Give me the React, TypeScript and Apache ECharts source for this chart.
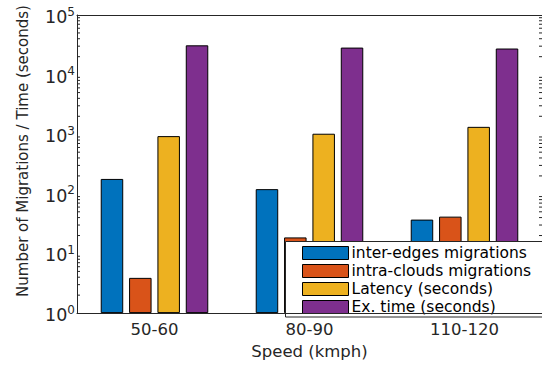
import React, { useEffect, useRef } from "react";
import * as echarts from "echarts";

const categories = ["50-60", "80-90", "110-120"];
const interEdges = [178, 120, 37];
const intraClouds = [3.9, 18.6, 41.5];
const latency = [930, 1020, 1330];
const exTime = [31000, 28400, 27400];
const seriesNames = [
  "inter-edges migrations",
  "intra-clouds migrations",
  "Latency (seconds)",
  "Ex. time (seconds)",
];
const colors = ["#0072BD", "#D95319", "#EDB120", "#7E2F8E"];
const yMin = 1;
const yMax = 100000;
const minorMultipliers = [2, 3, 4, 5, 6, 7, 8, 9];
const decades = [1, 10, 100, 1000, 10000];
const yAxisTitle = "Number of Migrations / Time (seconds)";

const AX = "#262626";
const FONT = "DejaVu Sans";

export default function App() {
  const ref = useRef<HTMLDivElement>(null);
  useEffect(() => {
    if (!ref.current) return;
    const chart = echarts.init(ref.current, null, { renderer: "svg" });
    const minorData: number[][] = [];
    decades.forEach((d) => minorMultipliers.forEach((m) => minorData.push([0, d * m])));
    const seriesData = [interEdges, intraClouds, latency, exTime];
    const barSeries = seriesData.map((data, i) => ({
      name: seriesNames[i],
      type: "bar",
      data,
      barWidth: 22.5,
      barGap: "26%",
      itemStyle: { color: colors[i], borderColor: "#000", borderWidth: 1 },
      emphasis: { disabled: true },
    }));
    chart.setOption({
      animation: false,
      grid: { left: 77, top: 15, width: 467, height: 302 },
      graphic: [
        {
          type: "text",
          x: 23,
          y: 151,
          rotation: Math.PI / 2,
          style: {
            text: yAxisTitle,
            fontFamily: FONT,
            fontSize: 15,
            fill: AX,
            align: "center",
            verticalAlign: "middle",
          },
        },
        {
          type: "rect",
          z: 8,
          shape: { x: 285.5, y: 241.5, width: 280, height: 75.5 },
          style: { fill: "#fff", stroke: AX, lineWidth: 1 },
        },
      ],
      legend: {
        data: seriesNames,
        orient: "vertical",
        left: 285,
        top: 241,
        padding: [4, 10, 2, 17],
        itemWidth: 46,
        itemHeight: 13,
        itemGap: 2,
        icon: "rect",
        itemStyle: { borderColor: "#000", borderWidth: 1 },
        textStyle: { fontFamily: FONT, fontSize: 15.5, color: "#000", padding: [0, 0, 0, -2] },
        selectedMode: false,
        z: 10,
      },
      xAxis: [
        {
          type: "category",
          data: categories,
          position: "bottom",
          name: "Speed (kmph)",
          nameLocation: "middle",
          nameGap: 27,
          nameTextStyle: { fontFamily: FONT, fontSize: 16.5, color: AX },
          axisLine: { lineStyle: { color: AX, width: 1 } },
          axisTick: { inside: true, length: 5, alignWithLabel: true, lineStyle: { color: AX } },
          axisLabel: { fontFamily: FONT, fontSize: 16.5, color: AX, margin: 8 },
          z: 12,
        },
        {
          type: "category",
          data: categories,
          position: "top",
          axisLine: { lineStyle: { color: AX, width: 1 } },
          axisTick: { inside: true, length: 5, alignWithLabel: true, lineStyle: { color: AX } },
          axisLabel: { show: false },
        },
      ],
      yAxis: [
        {
          type: "log",
          logBase: 10,
          min: yMin,
          max: yMax,
          axisLine: { show: true, lineStyle: { color: AX, width: 1 } },
          axisTick: { inside: true, length: 5, lineStyle: { color: AX } },
          splitLine: { show: false },
          axisLabel: {
            margin: 2,
            formatter: (v: number) => `{b|10}{s|${Math.round(Math.log10(v))}}`,
            rich: {
              b: { fontFamily: FONT, fontSize: 17.5, color: AX, padding: [4, 0, 0, 0] },
              s: { fontFamily: FONT, fontSize: 12, color: AX, padding: [0, 0, 7, 0] },
            },
          },
        },
        {
          type: "log",
          logBase: 10,
          min: yMin,
          max: yMax,
          position: "right",
          axisLine: { show: false },
          axisTick: { inside: true, length: 5, lineStyle: { color: AX } },
          splitLine: { show: false },
          axisLabel: { show: false },
        },
      ],
      series: [
        ...barSeries,
        {
          type: "custom",
          name: "minorTicks",
          xAxisIndex: 0,
          yAxisIndex: 0,
          silent: true,
          data: minorData,
          encode: { x: 0, y: 1 },
          renderItem: (params: any, api: any) => {
            const y = api.coord([0, api.value(1)])[1];
            const cs = params.coordSys;
            return {
              type: "group",
              children: [
                { type: "line", shape: { x1: cs.x, y1: y, x2: cs.x + 3, y2: y }, style: { stroke: AX, lineWidth: 1 } },
                { type: "line", shape: { x1: cs.x + cs.width - 3, y1: y, x2: cs.x + cs.width, y2: y }, style: { stroke: AX, lineWidth: 1 } },
              ],
            };
          },
        },
      ],
    });
    return () => chart.dispose();
  }, []);
  return <div ref={ref} style={{ position: "fixed", left: 0, top: 0, width: 542, height: 365, background: "#fff" }} />;
}
